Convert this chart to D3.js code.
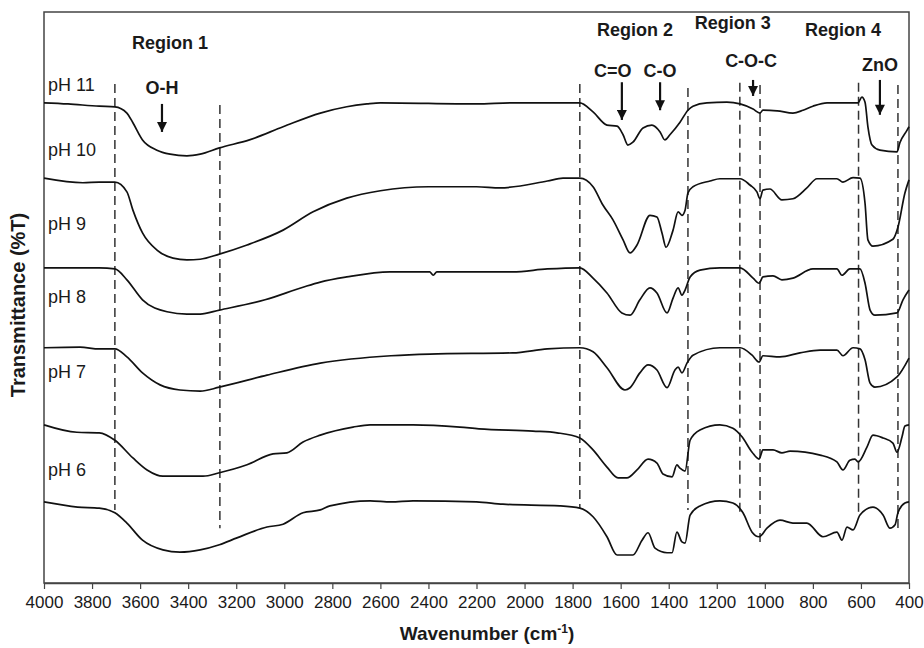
<!DOCTYPE html>
<html>
<head>
<meta charset="utf-8">
<script src="https://cdn.jsdelivr.net/npm/d3@7"></script>
<style>
  body { margin: 0; background: #fff; }
  svg text { font-family: "Liberation Sans", Arial, sans-serif; fill: #1a1a1a; }
</style>
</head>
<body>
<svg width="924" height="648"></svg>
<script>
// FTIR spectra, [wavenumber (cm-1), transmittance (a.u., stacked)]
const pH11 = [[4000,84.1],[3900,83.9],[3770,83.5],[3705,83.4],[3655,82.3],[3630,80.6],[3590,77.6],[3530,75.8],[3475,75.1],[3405,74.8],[3350,75.1],[3270,76.2],[3145,77.6],[3005,79.9],[2850,82.3],[2740,83.4],[2656,83.9],[2600,84.1],[2200,83.9],[2050,84.1],[1770,84.1],[1715,82.5],[1657,80.2],[1615,80.0],[1590,78.5],[1570,76.7],[1549,77.2],[1507,79.7],[1470,80.2],[1436,79.0],[1416,77.6],[1395,78.5],[1353,80.7],[1320,82.8],[1299,83.5],[1241,84.1],[1158,84.2],[1103,83.9],[1049,83.0],[1020,82.3],[1008,82.8],[949,82.7],[883,82.3],[841,82.8],[800,83.5],[741,84.1],[612,84.1],[596,85.1],[583,84.2],[571,79.9],[554,76.7],[521,75.8],[450,75.5],[438,77.1],[408,79.3],[400,79.9]];
const pH10 = [[4000,70.9],[3838,70.1],[3770,70.2],[3705,70.2],[3655,68.5],[3630,65.3],[3590,61.3],[3530,58.3],[3463,56.9],[3405,56.6],[3350,56.7],[3270,57.6],[3155,59.2],[3005,61.8],[2880,65.0],[2740,67.4],[2600,68.7],[2400,69.4],[2200,69.4],[2102,69.2],[1905,70.4],[1840,70.9],[1770,70.9],[1715,69.4],[1674,66.2],[1632,63.6],[1590,60.1],[1561,57.8],[1532,59.2],[1478,64.4],[1449,64.1],[1428,61.3],[1411,58.8],[1382,61.8],[1361,65.0],[1345,64.4],[1332,65.3],[1320,68.3],[1299,69.4],[1228,70.4],[1187,70.8],[1103,70.8],[1062,69.7],[1033,68.5],[1020,67.3],[1008,68.8],[979,69.0],[929,67.1],[883,67.3],[825,69.2],[783,70.8],[700,70.8],[675,70.2],[633,71.0],[604,70.9],[583,66.5],[571,60.1],[550,59.0],[467,60.2],[446,62.3],[417,68.3],[400,70.6]];
const pH9 = [[4000,55.2],[3770,55.2],[3705,55.0],[3655,53.1],[3590,49.6],[3488,47.5],[3405,47.1],[3350,47.1],[3270,47.8],[3080,49.6],[2922,51.8],[2850,52.7],[2740,53.6],[2560,54.5],[2395,54.5],[2380,53.9],[2365,54.5],[2050,54.5],[1905,55.0],[1770,55.2],[1715,53.4],[1657,50.8],[1595,47.3],[1561,46.9],[1520,49.6],[1478,51.7],[1449,50.8],[1407,47.3],[1382,49.9],[1361,51.7],[1345,50.4],[1332,51.3],[1311,53.6],[1270,54.8],[1187,55.2],[1103,55.2],[1049,53.4],[1024,52.5],[1008,53.6],[966,53.8],[929,53.1],[883,53.4],[800,55.0],[700,55.0],[679,53.9],[646,55.0],[604,55.0],[583,52.5],[562,47.8],[542,46.9],[450,47.3],[425,49.6],[400,51.3]];
const pH8 = [[4000,41.2],[3850,41.3],[3770,41.0],[3705,41.0],[3655,39.6],[3590,36.8],[3517,34.7],[3434,33.8],[3350,33.6],[3270,34.3],[3072,36.4],[2850,38.5],[2556,39.8],[2394,40.1],[2050,40.3],[1905,41.0],[1770,41.2],[1715,40.5],[1657,37.7],[1582,33.8],[1561,34.2],[1520,36.8],[1486,38.2],[1449,37.3],[1407,34.2],[1374,37.3],[1361,37.8],[1345,36.8],[1324,38.5],[1299,39.9],[1187,41.2],[1103,41.2],[1053,39.9],[1024,38.7],[1008,39.8],[937,39.6],[854,40.3],[770,40.8],[700,40.8],[675,39.8],[633,41.2],[604,41.0],[583,39.1],[562,35.0],[542,34.3],[450,36.1],[400,39.4]];
const pH7 = [[4000,27.7],[3863,26.4],[3770,26.3],[3705,25.0],[3630,21.9],[3571,19.8],[3505,18.7],[3338,18.7],[3270,19.3],[3155,20.7],[3047,22.6],[2989,22.8],[2922,24.7],[2850,25.9],[2714,27.3],[2643,27.7],[2464,27.7],[2269,27.3],[2190,27.0],[1965,26.6],[1865,26.3],[1770,25.4],[1715,23.3],[1657,20.3],[1611,18.4],[1574,18.4],[1532,19.8],[1486,21.7],[1449,21.0],[1424,19.1],[1386,18.6],[1366,20.7],[1353,20.1],[1332,19.6],[1311,25.0],[1270,26.8],[1187,27.7],[1133,27.1],[1095,25.6],[1053,22.9],[1024,21.7],[1008,23.3],[966,23.3],[929,22.8],[895,23.1],[770,22.4],[700,21.2],[675,19.8],[646,21.5],[625,21.7],[612,21.2],[575,23.8],[550,25.9],[508,25.4],[467,24.5],[450,22.9],[429,25.6],[417,27.5],[400,27.7]];
const pH6 = [[4000,14.2],[3860,13.3],[3770,13.1],[3705,12.3],[3655,10.5],[3590,7.5],[3505,5.8],[3434,5.4],[3350,5.8],[3270,6.7],[3197,7.9],[3072,9.8],[3005,10.3],[2922,12.3],[2850,12.8],[2810,13.5],[2643,14.4],[2556,14.2],[2464,14.4],[2200,14.2],[2090,13.8],[1853,13.5],[1770,13.1],[1715,11.6],[1657,8.1],[1615,4.9],[1549,4.9],[1511,7.5],[1486,8.8],[1457,6.1],[1407,5.3],[1386,5.3],[1366,8.9],[1345,7.2],[1332,7.0],[1311,11.9],[1270,13.5],[1187,14.4],[1133,14.0],[1091,12.3],[1053,8.9],[1024,8.1],[991,9.6],[937,11.0],[883,10.5],[825,10.5],[758,8.1],[700,8.9],[679,7.5],[658,9.8],[633,9.3],[604,11.9],[550,13.3],[508,11.9],[479,9.6],[458,10.2],[446,12.3],[417,14.0],[400,14.2]];

const seriesNames = ["pH 11", "pH 10", "pH 9", "pH 8", "pH 7", "pH 6"];
const seriesData = [pH11, pH10, pH9, pH8, pH7, pH6];
const labelLevels = [87.2, 75.8, 62.9, 50.1, 37.0, 19.8];

const xTicks = d3.range(4000, 399, -200);

// region boundaries: [wavenumber, top, bottom]
const boundaries = [[3705,87.4,12.8],[3268,83.7,9.6],[1770,87.4,13.1],[1320,86.7,12.8],[1104,87.6,11.6],[1020,87.2,6.7],[610,87.6,11.9],[446,87.2,9.6]];
const regionNames = ["Region 1", "Region 2", "Region 3", "Region 4"];
const regionPos = [[3476,94.6],[1540,96.9],[1133,98.1],[675,96.9]];
// band arrows: [label, wavenumber, top, bottom, label wavenumber, label level]
const bands = [["O-H",3509,83.9,79.0,3509,86.7],["C=O",1595,87.7,81.1,1633,89.8],["C-O",1436,87.7,82.8,1436,89.8],["C-O-C",1049,88.1,85.3,1057,91.4],["ZnO",521,88.1,82.0,521,90.7]];

const width = 924, height = 648;
const margin = { top: 12, right: 15, bottom: 65, left: 44 };

const svg = d3.select("svg");

const x = d3.scaleLinear()
    .domain([4000, 400])
    .range([margin.left, width - margin.right]);

const y = d3.scaleLinear()
    .domain([0, 100])
    .range([height - margin.bottom, margin.top]);

svg.append("defs").append("marker")
    .attr("id", "head")
    .attr("viewBox", "0 0 10 10")
    .attr("refX", 10).attr("refY", 5)
    .attr("markerUnits", "userSpaceOnUse")
    .attr("markerWidth", 11).attr("markerHeight", 10)
    .attr("orient", "auto")
    .append("path")
    .attr("d", "M0,0L10,5L0,10Z")
    .attr("fill", "#111");

// frame
svg.append("rect")
    .attr("x", margin.left)
    .attr("y", margin.top)
    .attr("width", width - margin.left - margin.right)
    .attr("height", height - margin.top - margin.bottom)
    .attr("fill", "none")
    .attr("stroke", "#444")
    .attr("stroke-width", 1.5);

// dashed region lines
svg.append("g")
    .selectAll("line")
    .data(boundaries)
    .enter().append("line")
    .attr("x1", d => x(d[0])).attr("x2", d => x(d[0]))
    .attr("y1", d => y(d[1])).attr("y2", d => y(d[2]))
    .attr("stroke", "#333")
    .attr("stroke-width", 1.5)
    .attr("stroke-dasharray", "9,5");

const line = d3.line()
    .x(d => x(d[0]))
    .y(d => y(d[1]))
    .curve(d3.curveMonotoneX);

svg.append("g")
    .selectAll("path")
    .data(seriesData)
    .enter().append("path")
    .attr("d", line)
    .attr("fill", "none")
    .attr("stroke", "#111")
    .attr("stroke-width", 1.7);

svg.append("g")
    .selectAll("text")
    .data(seriesNames)
    .enter().append("text")
    .attr("x", margin.left + 4)
    .attr("y", (d, i) => y(labelLevels[i]))
    .attr("dy", "0.35em")
    .style("font-size", "18px")
    .text(d => d);

// region titles
svg.append("g")
    .selectAll("text")
    .data(regionNames)
    .enter().append("text")
    .attr("x", (d, i) => x(regionPos[i][0]))
    .attr("y", (d, i) => y(regionPos[i][1]))
    .attr("dy", "0.35em")
    .attr("text-anchor", "middle")
    .style("font-size", "18px")
    .style("font-weight", "bold")
    .text(d => d);

// band arrows and labels
const band = svg.append("g").selectAll("g")
    .data(bands)
    .enter().append("g");

band.append("line")
    .attr("x1", d => x(d[1])).attr("x2", d => x(d[1]))
    .attr("y1", d => y(d[2])).attr("y2", d => y(d[3]))
    .attr("stroke", "#111")
    .attr("stroke-width", 2.2)
    .attr("marker-end", "url(#head)");

band.append("text")
    .attr("x", d => x(d[4]))
    .attr("y", d => y(d[5]))
    .attr("dy", "0.35em")
    .attr("text-anchor", "middle")
    .style("font-size", "18px")
    .style("font-weight", "bold")
    .text(d => d[0]);

// x axis
const xAxis = svg.append("g")
    .attr("transform", `translate(0,${height - margin.bottom})`)
    .call(d3.axisBottom(x).tickValues(xTicks).tickFormat(d3.format("d")).tickSize(6).tickSizeOuter(0));
xAxis.select(".domain").attr("stroke", "#444").attr("stroke-width", 1.5);
xAxis.selectAll(".tick line").attr("stroke", "#444").attr("stroke-width", 1.2);
xAxis.selectAll(".tick text")
    .attr("y", 13)
    .style("font-size", "17px")
    .style("font-family", "'Liberation Sans', Arial, sans-serif")
    .attr("fill", "#1a1a1a");

const xTitle = svg.append("text")
    .attr("x", 487)
    .attr("y", 640)
    .attr("text-anchor", "middle")
    .style("font-size", "19px")
    .style("font-weight", "bold");
xTitle.append("tspan").text("Wavenumber (cm");
xTitle.append("tspan").attr("dy", -7).style("font-size", "12px").text("-1");
xTitle.append("tspan").attr("dy", 7).text(")");

svg.append("text")
    .attr("transform", `translate(25,305) rotate(-90)`)
    .attr("text-anchor", "middle")
    .style("font-size", "20px")
    .style("font-weight", "bold")
    .text("Transmittance (%T)");
</script>
</body>
</html>
